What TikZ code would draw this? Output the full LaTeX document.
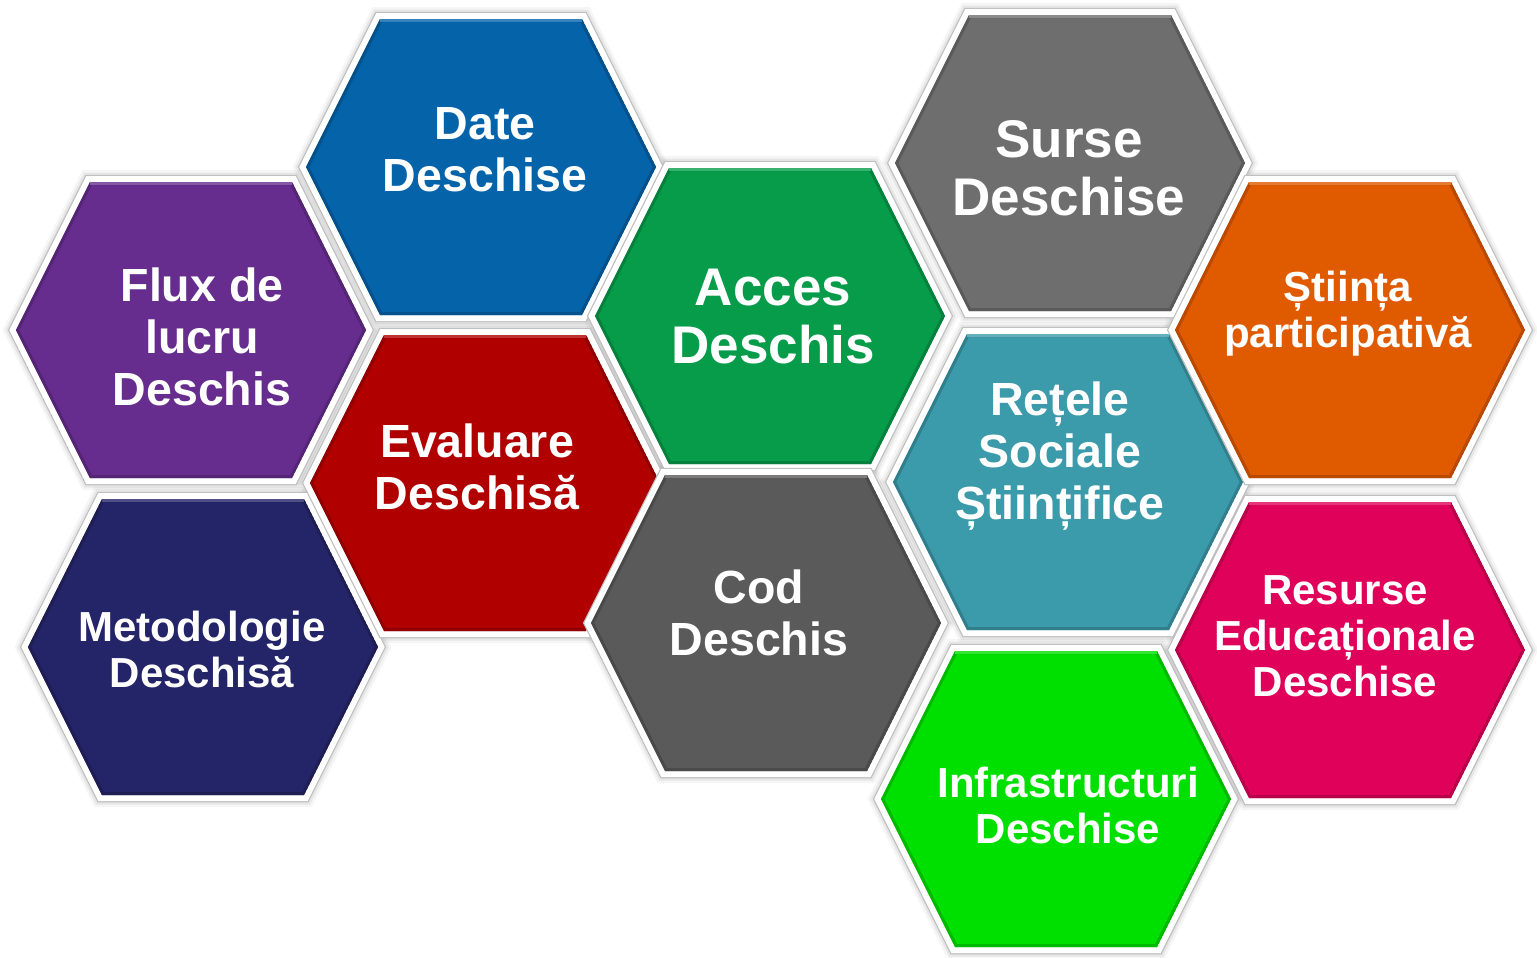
\documentclass[tikz,border=0pt]{standalone}
\usepackage{fontspec}
\setmainfont{Liberation Sans}
\definecolor{cDate}{RGB}{5,99,170}
\definecolor{cFlux}{RGB}{102,45,142}
\definecolor{cMet}{RGB}{36,36,104}
\definecolor{cEval}{RGB}{176,0,0}
\definecolor{cAcces}{RGB}{6,156,74}
\definecolor{cCod}{RGB}{90,90,90}
\definecolor{cSurse}{RGB}{110,110,110}
\definecolor{cRetele}{RGB}{60,155,171}
\definecolor{cInfra}{RGB}{0,224,0}
\definecolor{cStiinta}{RGB}{224,90,0}
\definecolor{cResurse}{RGB}{224,2,90}
\newcommand\hexagonpath[2]{(#1-175,#2) -- (#1-101,#2-148) -- (#1+101,#2-148) -- (#1+175,#2) -- (#1+101,#2+148) -- (#1-101,#2+148) -- cycle}
\newcommand\hexshadow[2]{%
  \draw[line width=24bp, black, opacity=0.04, line join=miter] \hexagonpath{#1}{#2};
  \draw[line width=19bp, black, opacity=0.06, line join=miter] \hexagonpath{#1}{#2};
}
\newcommand\hexcell[3]{%
  \draw[line width=14.5bp, black!25, line join=miter] \hexagonpath{#1}{#2};
  \draw[line width=12bp, white, line join=miter] \hexagonpath{#1}{#2};
  \begin{scope}
    \clip \hexagonpath{#1}{#2};
    \fill[#3] \hexagonpath{#1}{#2};
    \draw[line width=6bp, #3!82!black, line join=miter] \hexagonpath{#1}{#2};
    \draw[line width=5bp, #3!80!white] (#1-101,#2-148) -- (#1+101,#2-148);
  \end{scope}
}
\tikzset{
  lbl/.style={text=white, align=center, inner sep=0pt, anchor=north},
  fmid/.style={font=\fontsize{46.5bp}{52bp}\selectfont\bfseries},
  fbig/.style={font=\fontsize{53bp}{58bp}\selectfont\bfseries},
  fsmall/.style={font=\fontsize{42bp}{46bp}\selectfont\bfseries}
}
\begin{document}
\begin{tikzpicture}[x=1bp,y=-1bp]
\fill[white] (0,0) rectangle (1537,957);
\useasboundingbox (0,0) rectangle (1537,957);
% soft shadows
\hexshadow{481}{167}
\hexshadow{191}{330}
\hexshadow{203}{647}
\hexshadow{485}{483}
\hexshadow{770}{316}
\hexshadow{766}{623}
\hexshadow{1070}{163}
\hexshadow{1068}{482}
\hexshadow{1056}{799}
\hexshadow{1350}{330}
\hexshadow{1350}{650}
% cells
\hexcell{481}{167}{cDate}
\hexcell{191}{330}{cFlux}
\hexcell{203}{647}{cMet}
\hexcell{485}{483}{cEval}
\hexcell{770}{316}{cAcces}
\hexcell{766}{623}{cCod}
\hexcell{1070}{163}{cSurse}
\hexcell{1068}{482}{cRetele}
\hexcell{1056}{799}{cInfra}
\hexcell{1350}{330}{cStiinta}
\hexcell{1350}{650}{cResurse}
% labels
\node[lbl, fmid] (date) at (485,107) {Date\\Deschise};
\node[lbl, fmid] (flux) at (202,268) {Flux de\\lucru\\Deschis};
\node[lbl, fsmall] (met) at (202,611) {Metodologie\\Deschisă};
\node[lbl, fmid] (eval) at (477,424) {Evaluare\\Deschisă};
\node[lbl, fbig] (acces) at (773,269) {Acces\\Deschis};
\node[lbl, fmid] (cod) at (759,570) {Cod\\Deschis};
\node[lbl, fbig] (surse) at (1069,120) {Surse\\Deschise};
\node[lbl, fmid] (retele) at (1060,382) {Rețele\\Sociale\\Științifice};
\node[lbl, fsmall] (infra) at (1068,767) {Infrastructuri\\Deschise};
\node[lbl, fsmall] (stiinta) at (1348,271) {Știința\\participativă};
\node[lbl, fsmall] (resurse) at (1345,575) {Resurse\\Educaționale\\Deschise};
\end{tikzpicture}
\end{document}
